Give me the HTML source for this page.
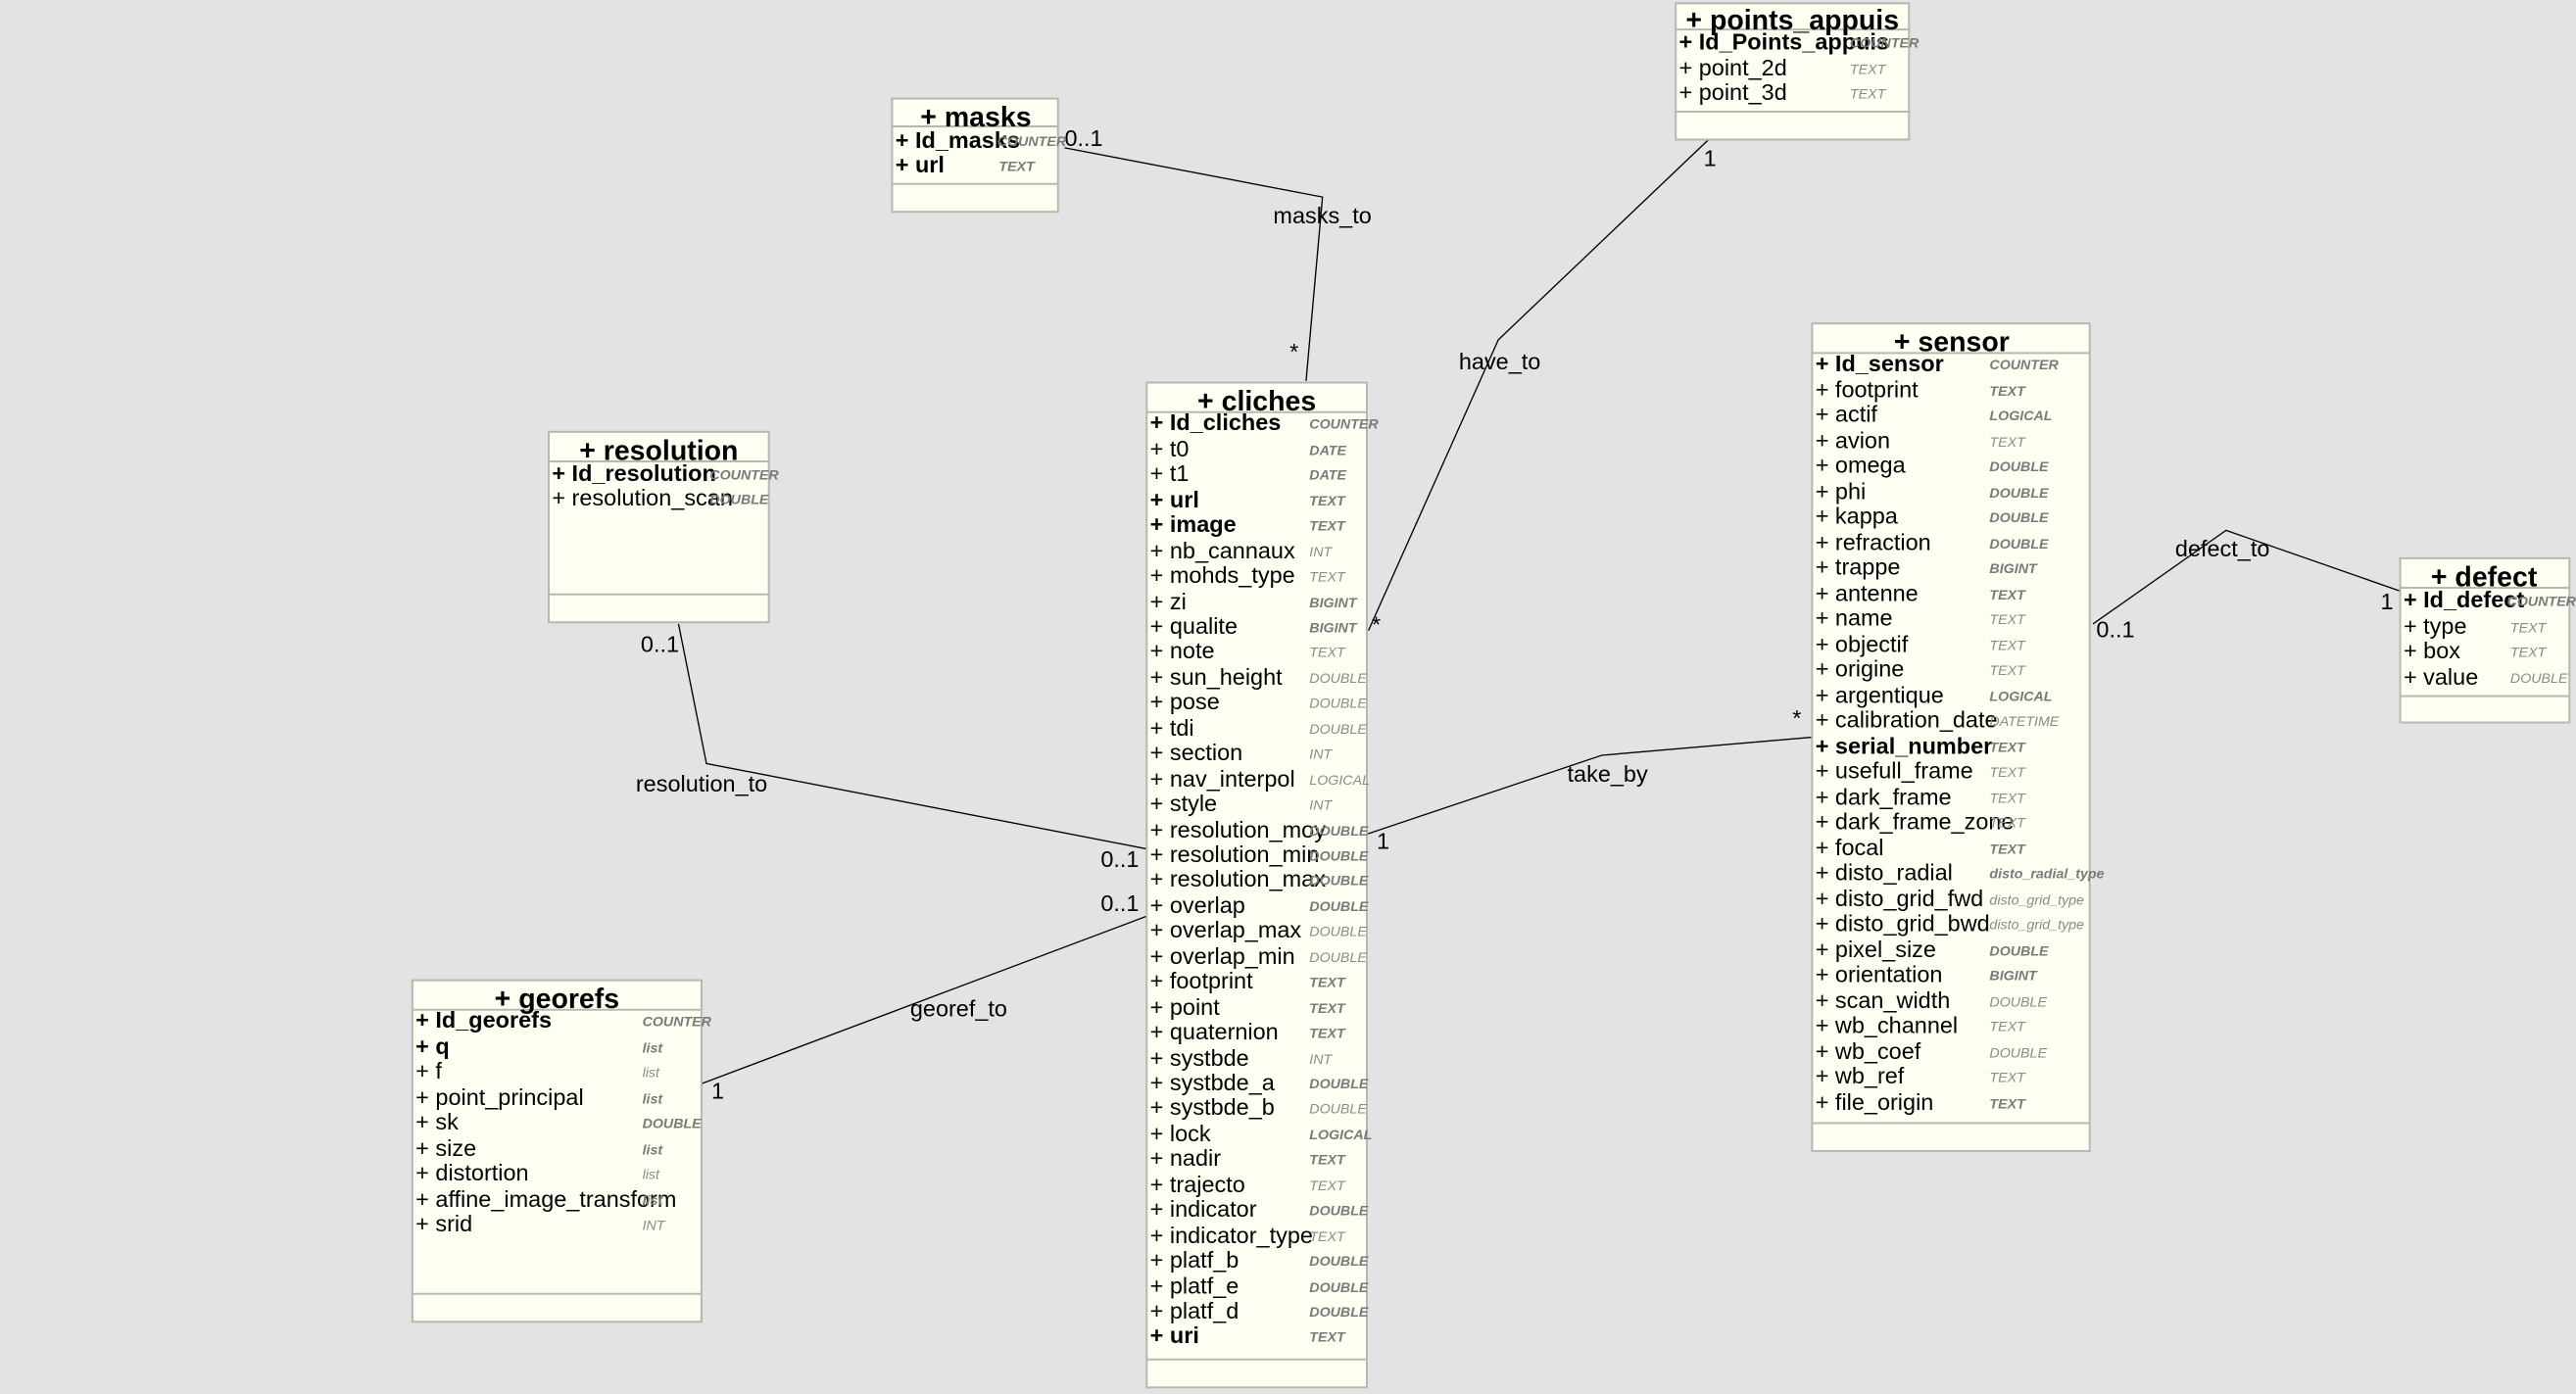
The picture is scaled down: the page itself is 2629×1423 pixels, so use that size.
<!DOCTYPE html>
<html><head><meta charset="utf-8"><style>
html,body{margin:0;padding:0;background:#e3e3e3;}
svg{display:block}
.b{fill:#fefef3;stroke:#b8b8b0;stroke-width:1.2}
.s{stroke:#b8b8b0;stroke-width:1.2}
.t{font-family:"Liberation Sans",sans-serif;font-size:17px;font-weight:bold;text-anchor:middle;fill:#000}
.r{font-family:"Liberation Sans",sans-serif;font-size:14px;fill:#000}
.rb{font-family:"Liberation Sans",sans-serif;font-size:14px;fill:#000;font-weight:bold}
.y{font-family:"Liberation Sans",sans-serif;font-size:8.5px;fill:#7a7a7a;font-style:italic;font-weight:bold}
.yn{font-family:"Liberation Sans",sans-serif;font-size:8.5px;fill:#8a8a8a;font-style:italic}
.l{font-family:"Liberation Sans",sans-serif;font-size:14px;fill:#000}
.c{fill:none;stroke:#000;stroke-width:0.8}
</style></head><body>
<svg width="2629" height="1423" viewBox="0 0 1568 849" preserveAspectRatio="none" xmlns="http://www.w3.org/2000/svg">
<rect width="1568" height="849" fill="#e3e3e3"/>
<polyline class="c" points="648,90 805,120 795,232"/>
<polyline class="c" points="1040,85 912,207 833,384"/>
<polyline class="c" points="413,380 430,465 698,517"/>
<polyline class="c" points="427,660 698,558"/>
<polyline class="c" points="832,508 975,460 1103,449"/>
<polyline class="c" points="1274,380 1355,323 1461,360"/>
<text class="l" x="775" y="136">masks_to</text>
<text class="l" x="648" y="89">0..1</text>
<text class="l" x="785" y="219">*</text>
<text class="l" x="888" y="225">have_to</text>
<text class="l" x="1037" y="101">1</text>
<text class="l" x="835" y="385">*</text>
<text class="l" x="387" y="482">resolution_to</text>
<text class="l" x="390" y="397">0..1</text>
<text class="l" x="670" y="528">0..1</text>
<text class="l" x="554" y="619">georef_to</text>
<text class="l" x="433" y="669">1</text>
<text class="l" x="670" y="555">0..1</text>
<text class="l" x="954" y="476">take_by</text>
<text class="l" x="838" y="517">1</text>
<text class="l" x="1091" y="442">*</text>
<text class="l" x="1324" y="339">defect_to</text>
<text class="l" x="1276" y="388">0..1</text>
<text class="l" x="1449" y="371">1</text>

<rect class="b" x="543" y="60" width="101" height="69"/>
<line class="s" x1="543" y1="77" x2="644" y2="77"/><line class="s" x1="543" y1="112" x2="644" y2="112"/>
<text class="t" x="594" y="77">+ masks</text>
<text class="rb" x="545" y="90">+ Id_masks</text><text class="y" x="607" y="89">COUNTER</text>
<text class="rb" x="545" y="105">+ url</text><text class="y" x="608" y="104">TEXT</text>

<rect class="b" x="1020" y="2" width="142" height="83"/>
<line class="s" x1="1020" y1="18" x2="1162" y2="18"/><line class="s" x1="1020" y1="68" x2="1162" y2="68"/>
<text class="t" x="1091" y="18">+ points_appuis</text>
<text class="rb" x="1022" y="30">+ Id_Points_appuis</text><text class="y" x="1126" y="29">COUNTER</text>
<text class="r" x="1022" y="46">+ point_2d</text><text class="yn" x="1126" y="45">TEXT</text>
<text class="r" x="1022" y="61">+ point_3d</text><text class="yn" x="1126" y="60">TEXT</text>

<rect class="b" x="334" y="263" width="134" height="116"/>
<line class="s" x1="334" y1="281" x2="468" y2="281"/><line class="s" x1="334" y1="362" x2="468" y2="362"/>
<text class="t" x="401" y="280">+ resolution</text>
<text class="rb" x="336" y="293">+ Id_resolution</text><text class="y" x="432" y="292">COUNTER</text>
<text class="r" x="336" y="308">+ resolution_scan</text><text class="y" x="432" y="307">DOUBLE</text>

<rect class="b" x="1461" y="340" width="103" height="100"/>
<line class="s" x1="1461" y1="358" x2="1564" y2="358"/><line class="s" x1="1461" y1="424" x2="1564" y2="424"/>
<text class="t" x="1512" y="357">+ defect</text>
<text class="rb" x="1463" y="370">+ Id_defect</text><text class="y" x="1526" y="369">COUNTER</text>
<text class="r" x="1463" y="386">+ type</text><text class="yn" x="1528" y="385">TEXT</text>
<text class="r" x="1463" y="401">+ box</text><text class="yn" x="1528" y="400">TEXT</text>
<text class="r" x="1463" y="417">+ value</text><text class="yn" x="1528" y="416">DOUBLE</text>

<rect class="b" x="251" y="597" width="176" height="208"/>
<line class="s" x1="251" y1="615" x2="427" y2="615"/><line class="s" x1="251" y1="788" x2="427" y2="788"/>
<text class="t" x="339" y="614">+ georefs</text>
<text class="rb" x="253" y="626">+ Id_georefs</text><text class="y" x="391" y="625">COUNTER</text>
<text class="rb" x="253" y="642">+ q</text><text class="y" x="391" y="641">list</text>
<text class="r" x="253" y="657">+ f</text><text class="yn" x="391" y="656">list</text>
<text class="r" x="253" y="673">+ point_principal</text><text class="y" x="391" y="672">list</text>
<text class="r" x="253" y="688">+ sk</text><text class="y" x="391" y="687">DOUBLE</text>
<text class="r" x="253" y="704">+ size</text><text class="y" x="391" y="703">list</text>
<text class="r" x="253" y="719">+ distortion</text><text class="yn" x="391" y="718">list</text>
<text class="r" x="253" y="735">+ affine_image_transform</text><text class="y" x="391" y="734">list</text>
<text class="r" x="253" y="750">+ srid</text><text class="yn" x="391" y="749">INT</text>

<rect class="b" x="698" y="233" width="134" height="612"/>
<line class="s" x1="698" y1="251" x2="832" y2="251"/><line class="s" x1="698" y1="828" x2="832" y2="828"/>
<text class="t" x="765" y="250">+ cliches</text>
<g>
<text class="rb" x="700" y="262">+ Id_cliches</text><text class="y" x="797" y="261">COUNTER</text>
<text class="r" x="700" y="278">+ t0</text><text class="y" x="797" y="277">DATE</text>
<text class="r" x="700" y="293">+ t1</text><text class="y" x="797" y="292">DATE</text>
<text class="rb" x="700" y="309">+ url</text><text class="y" x="797" y="308">TEXT</text>
<text class="rb" x="700" y="324">+ image</text><text class="y" x="797" y="323">TEXT</text>
<text class="r" x="700" y="340">+ nb_cannaux</text><text class="yn" x="797" y="339">INT</text>
<text class="r" x="700" y="355">+ mohds_type</text><text class="yn" x="797" y="354">TEXT</text>
<text class="r" x="700" y="371">+ zi</text><text class="y" x="797" y="370">BIGINT</text>
<text class="r" x="700" y="386">+ qualite</text><text class="y" x="797" y="385">BIGINT</text>
<text class="r" x="700" y="401">+ note</text><text class="yn" x="797" y="400">TEXT</text>
<text class="r" x="700" y="417">+ sun_height</text><text class="yn" x="797" y="416">DOUBLE</text>
<text class="r" x="700" y="432">+ pose</text><text class="yn" x="797" y="431">DOUBLE</text>
<text class="r" x="700" y="448">+ tdi</text><text class="yn" x="797" y="447">DOUBLE</text>
<text class="r" x="700" y="463">+ section</text><text class="yn" x="797" y="462">INT</text>
<text class="r" x="700" y="479">+ nav_interpol</text><text class="yn" x="797" y="478">LOGICAL</text>
<text class="r" x="700" y="494">+ style</text><text class="yn" x="797" y="493">INT</text>
<text class="r" x="700" y="510">+ resolution_moy</text><text class="y" x="797" y="509">DOUBLE</text>
<text class="r" x="700" y="525">+ resolution_min</text><text class="y" x="797" y="524">DOUBLE</text>
<text class="r" x="700" y="540">+ resolution_max</text><text class="y" x="797" y="539">DOUBLE</text>
<text class="r" x="700" y="556">+ overlap</text><text class="y" x="797" y="555">DOUBLE</text>
<text class="r" x="700" y="571">+ overlap_max</text><text class="yn" x="797" y="570">DOUBLE</text>
<text class="r" x="700" y="587">+ overlap_min</text><text class="yn" x="797" y="586">DOUBLE</text>
<text class="r" x="700" y="602">+ footprint</text><text class="y" x="797" y="601">TEXT</text>
<text class="r" x="700" y="618">+ point</text><text class="y" x="797" y="617">TEXT</text>
<text class="r" x="700" y="633">+ quaternion</text><text class="y" x="797" y="632">TEXT</text>
<text class="r" x="700" y="649">+ systbde</text><text class="yn" x="797" y="648">INT</text>
<text class="r" x="700" y="664">+ systbde_a</text><text class="y" x="797" y="663">DOUBLE</text>
<text class="r" x="700" y="679">+ systbde_b</text><text class="yn" x="797" y="678">DOUBLE</text>
<text class="r" x="700" y="695">+ lock</text><text class="y" x="797" y="694">LOGICAL</text>
<text class="r" x="700" y="710">+ nadir</text><text class="y" x="797" y="709">TEXT</text>
<text class="r" x="700" y="726">+ trajecto</text><text class="yn" x="797" y="725">TEXT</text>
<text class="r" x="700" y="741">+ indicator</text><text class="y" x="797" y="740">DOUBLE</text>
<text class="r" x="700" y="757">+ indicator_type</text><text class="yn" x="797" y="756">TEXT</text>
<text class="r" x="700" y="772">+ platf_b</text><text class="y" x="797" y="771">DOUBLE</text>
<text class="r" x="700" y="788">+ platf_e</text><text class="y" x="797" y="787">DOUBLE</text>
<text class="r" x="700" y="803">+ platf_d</text><text class="y" x="797" y="802">DOUBLE</text>
<text class="rb" x="700" y="818">+ uri</text><text class="y" x="797" y="817">TEXT</text>
</g>

<rect class="b" x="1103" y="197" width="169" height="504"/>
<line class="s" x1="1103" y1="215" x2="1272" y2="215"/><line class="s" x1="1103" y1="684" x2="1272" y2="684"/>
<text class="t" x="1188" y="214">+ sensor</text>
<g>
<text class="rb" x="1105" y="226">+ Id_sensor</text><text class="y" x="1211" y="225">COUNTER</text>
<text class="r" x="1105" y="242">+ footprint</text><text class="y" x="1211" y="241">TEXT</text>
<text class="r" x="1105" y="257">+ actif</text><text class="y" x="1211" y="256">LOGICAL</text>
<text class="r" x="1105" y="273">+ avion</text><text class="yn" x="1211" y="272">TEXT</text>
<text class="r" x="1105" y="288">+ omega</text><text class="y" x="1211" y="287">DOUBLE</text>
<text class="r" x="1105" y="304">+ phi</text><text class="y" x="1211" y="303">DOUBLE</text>
<text class="r" x="1105" y="319">+ kappa</text><text class="y" x="1211" y="318">DOUBLE</text>
<text class="r" x="1105" y="335">+ refraction</text><text class="y" x="1211" y="334">DOUBLE</text>
<text class="r" x="1105" y="350">+ trappe</text><text class="y" x="1211" y="349">BIGINT</text>
<text class="r" x="1105" y="366">+ antenne</text><text class="y" x="1211" y="365">TEXT</text>
<text class="r" x="1105" y="381">+ name</text><text class="yn" x="1211" y="380">TEXT</text>
<text class="r" x="1105" y="397">+ objectif</text><text class="yn" x="1211" y="396">TEXT</text>
<text class="r" x="1105" y="412">+ origine</text><text class="yn" x="1211" y="411">TEXT</text>
<text class="r" x="1105" y="428">+ argentique</text><text class="y" x="1211" y="427">LOGICAL</text>
<text class="r" x="1105" y="443">+ calibration_date</text><text class="yn" x="1211" y="442">DATETIME</text>
<text class="rb" x="1105" y="459">+ serial_number</text><text class="y" x="1211" y="458">TEXT</text>
<text class="r" x="1105" y="474">+ usefull_frame</text><text class="yn" x="1211" y="473">TEXT</text>
<text class="r" x="1105" y="490">+ dark_frame</text><text class="yn" x="1211" y="489">TEXT</text>
<text class="r" x="1105" y="505">+ dark_frame_zone</text><text class="yn" x="1211" y="504">TEXT</text>
<text class="r" x="1105" y="521">+ focal</text><text class="y" x="1211" y="520">TEXT</text>
<text class="r" x="1105" y="536">+ disto_radial</text><text class="y" x="1211" y="535">disto_radial_type</text>
<text class="r" x="1105" y="552">+ disto_grid_fwd</text><text class="yn" x="1211" y="551">disto_grid_type</text>
<text class="r" x="1105" y="567">+ disto_grid_bwd</text><text class="yn" x="1211" y="566">disto_grid_type</text>
<text class="r" x="1105" y="583">+ pixel_size</text><text class="y" x="1211" y="582">DOUBLE</text>
<text class="r" x="1105" y="598">+ orientation</text><text class="y" x="1211" y="597">BIGINT</text>
<text class="r" x="1105" y="614">+ scan_width</text><text class="yn" x="1211" y="613">DOUBLE</text>
<text class="r" x="1105" y="629">+ wb_channel</text><text class="yn" x="1211" y="628">TEXT</text>
<text class="r" x="1105" y="645">+ wb_coef</text><text class="yn" x="1211" y="644">DOUBLE</text>
<text class="r" x="1105" y="660">+ wb_ref</text><text class="yn" x="1211" y="659">TEXT</text>
<text class="r" x="1105" y="676">+ file_origin</text><text class="y" x="1211" y="675">TEXT</text>
</g>
</svg>
</body></html>
